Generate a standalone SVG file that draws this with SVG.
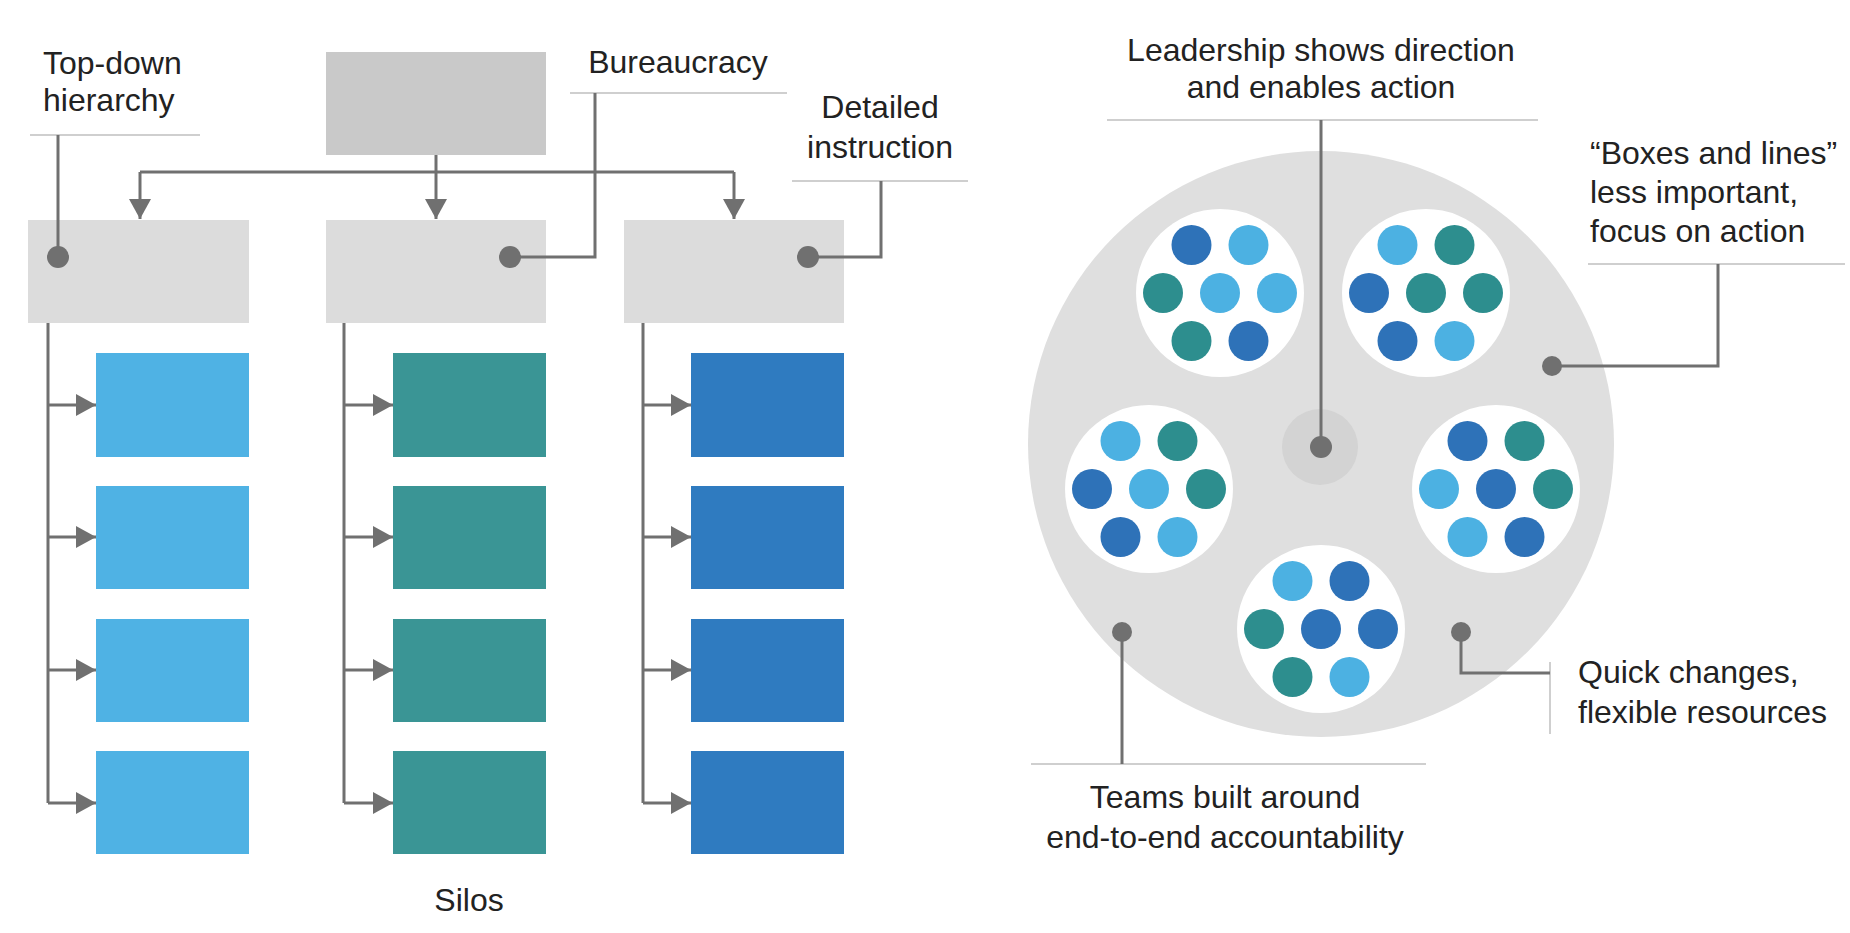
<svg xmlns="http://www.w3.org/2000/svg" width="1850" height="933" viewBox="0 0 1850 933">
<style>
  text { font-family: "Liberation Sans", Arial, sans-serif; font-size: 32px; fill: #222; }
  .mid { text-anchor: middle; }
  .conn { fill: none; stroke: #707070; stroke-width: 3; }
  .lead { fill: none; stroke: #707070; stroke-width: 3; }
  .rule { fill: none; stroke: #cfcfcf; stroke-width: 2; }
  .dot { fill: #707070; }
  .top { fill: #c9c9c9; }
  .mgr { fill: #dcdcdc; }
  .c1 { fill: #4fb2e4; }
  .c2 { fill: #3a9595; }
  .c3 { fill: #2f7bc0; }
  .D { fill: #2e72b8; }
  .L { fill: #4cb1e2; }
  .T { fill: #2d8e8e; }
  .team { fill: #ffffff; }
</style>
<defs>
  <marker id="arr" viewBox="0 0 20 22" refX="20" refY="11" markerWidth="20" markerHeight="22" markerUnits="userSpaceOnUse" orient="auto">
    <path d="M0,0 L20,11 L0,22 z" fill="#707070"/>
  </marker>
  <g id="team">
    <circle class="team" cx="0" cy="0" r="84"/>
  </g>
</defs>
<rect width="1850" height="933" fill="#ffffff"/>

<!-- Left: hierarchy -->
<g id="top-box"><rect class="top" x="326" y="52" width="220" height="103"/></g>
<g id="mgr-1"><rect class="mgr" x="28" y="220" width="221" height="103"/></g>
<g id="mgr-2"><rect class="mgr" x="326" y="220" width="220" height="103"/></g>
<g id="mgr-3"><rect class="mgr" x="624" y="220" width="220" height="103"/></g>

<g id="col-1">
  <rect class="c1" x="96" y="353" width="153" height="104"/>
  <rect class="c1" x="96" y="486" width="153" height="103"/>
  <rect class="c1" x="96" y="619" width="153" height="103"/>
  <rect class="c1" x="96" y="751" width="153" height="103"/>
</g>
<g id="col-2">
  <rect class="c2" x="393" y="353" width="153" height="104"/>
  <rect class="c2" x="393" y="486" width="153" height="103"/>
  <rect class="c2" x="393" y="619" width="153" height="103"/>
  <rect class="c2" x="393" y="751" width="153" height="103"/>
</g>
<g id="col-3">
  <rect class="c3" x="691" y="353" width="153" height="104"/>
  <rect class="c3" x="691" y="486" width="153" height="103"/>
  <rect class="c3" x="691" y="619" width="153" height="103"/>
  <rect class="c3" x="691" y="751" width="153" height="103"/>
</g>

<!-- Right: network -->
<g id="network">
  <circle cx="1321" cy="444" r="293" fill="#dfdfdf"/>
  <circle cx="1320" cy="447" r="38" fill="#d3d3d3"/>
</g>
<g id="team-tl" transform="translate(1220,293)">
  <use href="#team"/>
  <circle class="D" cx="-28.5" cy="-48" r="20"/><circle class="L" cx="28.5" cy="-48" r="20"/>
  <circle class="T" cx="-57" cy="0" r="20"/><circle class="L" cx="0" cy="0" r="20"/><circle class="L" cx="57" cy="0" r="20"/>
  <circle class="T" cx="-28.5" cy="48" r="20"/><circle class="D" cx="28.5" cy="48" r="20"/>
</g>
<g id="team-tr" transform="translate(1426,293)">
  <use href="#team"/>
  <circle class="L" cx="-28.5" cy="-48" r="20"/><circle class="T" cx="28.5" cy="-48" r="20"/>
  <circle class="D" cx="-57" cy="0" r="20"/><circle class="T" cx="0" cy="0" r="20"/><circle class="T" cx="57" cy="0" r="20"/>
  <circle class="D" cx="-28.5" cy="48" r="20"/><circle class="L" cx="28.5" cy="48" r="20"/>
</g>
<g id="team-l" transform="translate(1149,489)">
  <use href="#team"/>
  <circle class="L" cx="-28.5" cy="-48" r="20"/><circle class="T" cx="28.5" cy="-48" r="20"/>
  <circle class="D" cx="-57" cy="0" r="20"/><circle class="L" cx="0" cy="0" r="20"/><circle class="T" cx="57" cy="0" r="20"/>
  <circle class="D" cx="-28.5" cy="48" r="20"/><circle class="L" cx="28.5" cy="48" r="20"/>
</g>
<g id="team-r" transform="translate(1496,489)">
  <use href="#team"/>
  <circle class="D" cx="-28.5" cy="-48" r="20"/><circle class="T" cx="28.5" cy="-48" r="20"/>
  <circle class="L" cx="-57" cy="0" r="20"/><circle class="D" cx="0" cy="0" r="20"/><circle class="T" cx="57" cy="0" r="20"/>
  <circle class="L" cx="-28.5" cy="48" r="20"/><circle class="D" cx="28.5" cy="48" r="20"/>
</g>
<g id="team-b" transform="translate(1321,629)">
  <use href="#team"/>
  <circle class="L" cx="-28.5" cy="-48" r="20"/><circle class="D" cx="28.5" cy="-48" r="20"/>
  <circle class="T" cx="-57" cy="0" r="20"/><circle class="D" cx="0" cy="0" r="20"/><circle class="D" cx="57" cy="0" r="20"/>
  <circle class="T" cx="-28.5" cy="48" r="20"/><circle class="L" cx="28.5" cy="48" r="20"/>
</g>

<!-- Connectors -->
<g id="connectors">
  <path class="conn" d="M436,155 V219" marker-end="url(#arr)"/>
  <path class="conn" d="M140,172 H734"/>
  <path class="conn" d="M140,172 V219" marker-end="url(#arr)"/>
  <path class="conn" d="M734,172 V219" marker-end="url(#arr)"/>

  <path class="conn" d="M48,323 V803"/>
  <path class="conn" d="M48,405 H96" marker-end="url(#arr)"/>
  <path class="conn" d="M48,537 H96" marker-end="url(#arr)"/>
  <path class="conn" d="M48,670 H96" marker-end="url(#arr)"/>
  <path class="conn" d="M48,803 H96" marker-end="url(#arr)"/>

  <path class="conn" d="M344,323 V803"/>
  <path class="conn" d="M344,405 H393" marker-end="url(#arr)"/>
  <path class="conn" d="M344,537 H393" marker-end="url(#arr)"/>
  <path class="conn" d="M344,670 H393" marker-end="url(#arr)"/>
  <path class="conn" d="M344,803 H393" marker-end="url(#arr)"/>

  <path class="conn" d="M643,323 V803"/>
  <path class="conn" d="M643,405 H691" marker-end="url(#arr)"/>
  <path class="conn" d="M643,537 H691" marker-end="url(#arr)"/>
  <path class="conn" d="M643,670 H691" marker-end="url(#arr)"/>
  <path class="conn" d="M643,803 H691" marker-end="url(#arr)"/>

  <!-- annotation rules -->
  <path class="rule" d="M30,135 H200"/>
  <path class="rule" d="M570,93 H787"/>
  <path class="rule" d="M792,181 H968"/>
  <path class="rule" d="M1107,120 H1538"/>
  <path class="rule" d="M1588,264 H1845"/>
  <path class="rule" d="M1031,764 H1426"/>
  <path class="rule" d="M1550,662 V734"/>

  <!-- annotation leaders -->
  <path class="lead" d="M58,135 V257"/>
  <circle class="dot" cx="58" cy="257" r="11"/>
  <path class="lead" d="M595,93 V257 H510"/>
  <circle class="dot" cx="510" cy="257" r="11"/>
  <path class="lead" d="M881,181 V257 H808"/>
  <circle class="dot" cx="808" cy="257" r="11"/>
  <path class="lead" d="M1321,120 V447"/>
  <circle class="dot" cx="1321" cy="447" r="11"/>
  <path class="lead" d="M1718,264 V366 H1552"/>
  <circle class="dot" cx="1552" cy="366" r="10"/>
  <path class="lead" d="M1122,632 V764"/>
  <circle class="dot" cx="1122" cy="632" r="10"/>
  <path class="lead" d="M1461,632 V673 H1550"/>
  <circle class="dot" cx="1461" cy="632" r="10"/>
</g>

<!-- Labels -->
<g id="label-topdown">
  <text x="43" y="74">Top-down</text>
  <text x="43" y="111">hierarchy</text>
</g>
<g id="label-bureaucracy"><text class="mid" x="678" y="73">Bureaucracy</text></g>
<g id="label-detailed">
  <text class="mid" x="880" y="118">Detailed</text>
  <text class="mid" x="880" y="158">instruction</text>
</g>
<g id="label-silos"><text class="mid" x="469" y="911">Silos</text></g>
<g id="label-leadership">
  <text class="mid" x="1321" y="61">Leadership shows direction</text>
  <text class="mid" x="1321" y="98">and enables action</text>
</g>
<g id="label-boxes">
  <text x="1590" y="164">“Boxes and lines”</text>
  <text x="1590" y="203">less important,</text>
  <text x="1590" y="242">focus on action</text>
</g>
<g id="label-quick">
  <text x="1578" y="683">Quick changes,</text>
  <text x="1578" y="723">flexible resources</text>
</g>
<g id="label-teams">
  <text class="mid" x="1225" y="808">Teams built around</text>
  <text class="mid" x="1225" y="848">end-to-end accountability</text>
</g>
</svg>
